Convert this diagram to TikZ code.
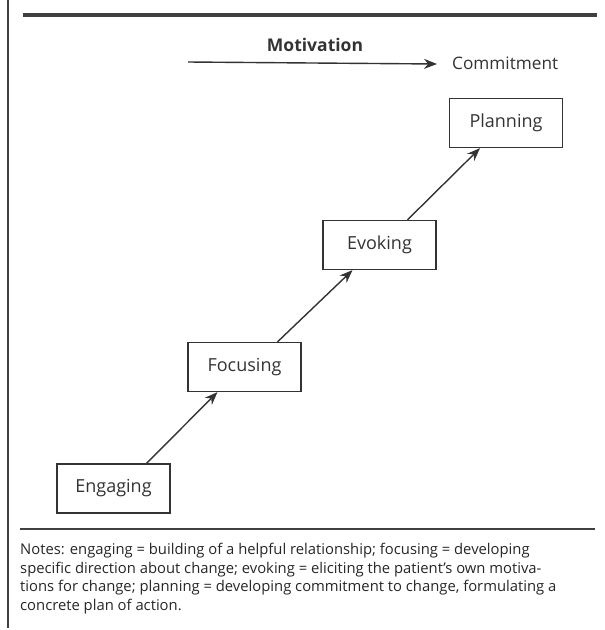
\documentclass[tikz,border=0pt]{standalone}
\usepackage{fontspec}
\setmainfont{Open Sans}
\usetikzlibrary{arrows.meta}
\tikzstyle{every edge} = [draw,line width=1.4pt,color=black!80,-{Stealth[length=13pt,width=10pt]}]
\tikzstyle{stage} = [draw,line width=1.3pt,color=black!80,text=black!80,minimum width=113pt,minimum height=49pt,inner sep=0pt,font=\fontsize{18}{21}\selectfont]
\tikzstyle{rule} = [color=black!75]

\begin{document}
\begin{tikzpicture}[x=1pt,y=-1pt]

\useasboundingbox (0,0) rectangle (605,630);

% frame and rules
\draw[rule,line width=1.4pt] (8,0) -- (8,628);
\draw[rule,line width=4pt] (23,15) -- (597,15);
\draw[rule,line width=1.8pt] (20,529) -- (595,529);

% motivation -> commitment
\node[font=\bfseries\fontsize{17.5}{20}\selectfont,text=black!80] (mot) at (315,45) {Motivation};
\node[anchor=west,font=\fontsize{17.2}{20}\selectfont,text=black!80,inner sep=0pt] (com) at (452,63) {Commitment};
\coordinate (mstart) at (188,62);
\draw (mstart) edge ([xshift=-15pt,yshift=-1pt]com.west);

% stages
\node[stage] (eng) at (113.5,488.5) {Engaging};
\node[stage] (foc) at (244.5,367) {Focusing};
\node[stage] (evo) at (379.5,245) {Evoking};
\node[stage] (pla) at (506,123) {Planning};

\draw ([xshift=33pt]eng.north) edge ([xshift=-27pt]foc.south);
\draw ([xshift=33pt]foc.north) edge ([xshift=-27pt]evo.south);
\draw ([xshift=28pt]evo.north) edge ([xshift=-26pt]pla.south);

% notes
\node[anchor=north west,align=left,inner sep=0pt,text=black!85,font=\fontsize{14.8}{18.5}\selectfont] (notes) at (20,543)
{Notes: engaging = building of a helpful relationship; focusing = developing\\
specific direction about change; evoking = eliciting the patient's own motiva-\\
tions for change; planning = developing commitment to change, formulating a\\
concrete plan of action.};

\end{tikzpicture}
\end{document}
